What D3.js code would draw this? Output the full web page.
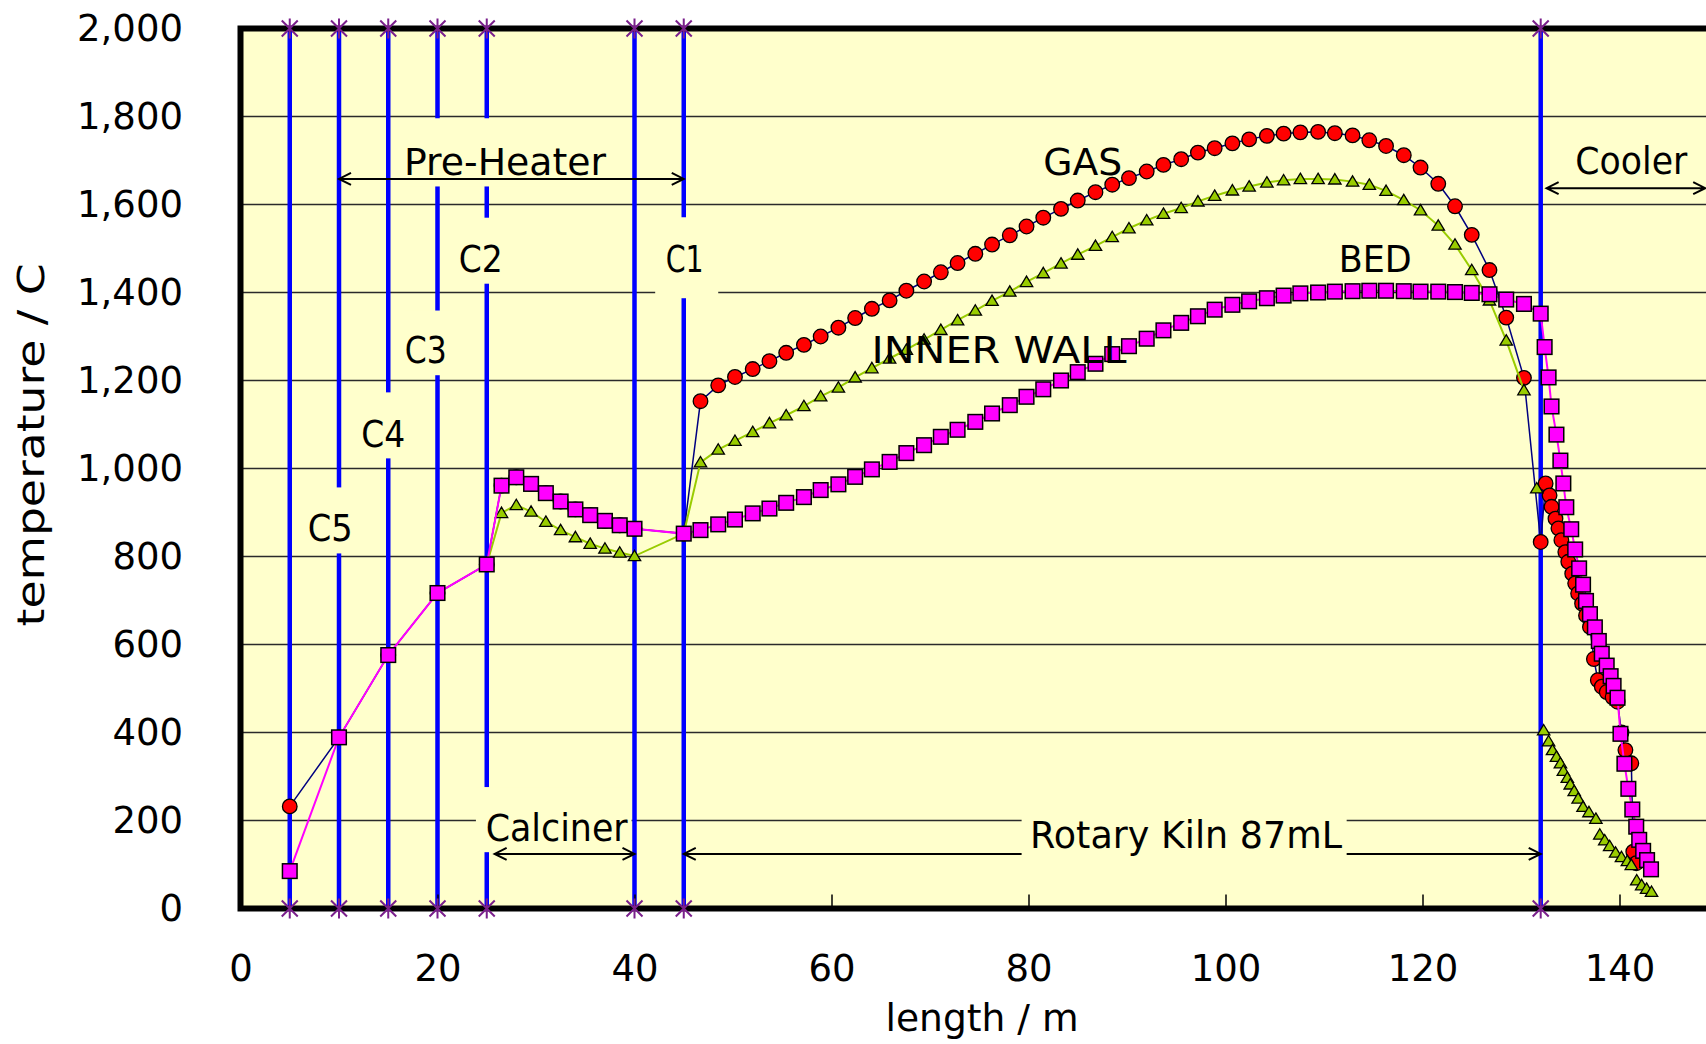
<!DOCTYPE html>
<html><head><meta charset="utf-8">
<script src="https://cdn.jsdelivr.net/npm/d3@7"></script>
<style>
html,body{margin:0;padding:0;background:#fff;}
svg{display:block;}
text{font-family:"Comic Sans MS","DejaVu Sans",sans-serif;fill:#000;}
</style></head><body>
<svg id="chart" width="1706" height="1044"></svg>
<script>
// ---------------- data ----------------
const xTicks = [0, 20, 40, 60, 80, 100, 120, 140];
const yTicks = [0, 200, 400, 600, 800, 1000, 1200, 1400, 1600, 1800, 2000];

// stage boundaries (blue vertical lines) and their marker temperatures
const zoneX = [5, 10, 15, 20, 25, 40, 45, 132];
const zoneY = [0, 2000];

// pre-heater cyclones
const preX   = [5, 10, 15, 20, 25];
const gasPre = [232, 389, 576, 717, 782];
const bedPre = [85, 389, 576, 717, 782];
const wallPreX = [25];
const wallPre  = [782];

// calciner
const calcX    = [26.5, 28, 29.5, 31, 32.5, 34, 35.5, 37, 38.5, 40];
const bedCalc  = [961, 980, 965, 944, 925, 907, 894, 881, 871, 863];
const gasCalc  = [961, 980, 965, 944, 925, 907, 894, 881, 871, 863];
const wallCalc = [899, 917, 902, 879, 860, 844, 829, 818, 809, 801];

// rotary kiln
const kilnX = [45, 46.7, 48.5, 50.2, 52.0, 53.7, 55.4, 57.2, 58.9, 60.7, 62.4, 64.1, 65.9, 67.6, 69.4, 71.1, 72.8,
  74.6, 76.3, 78.1, 79.8, 81.5, 83.3, 85.0, 86.8, 88.5, 90.2, 92.0, 93.7, 95.5, 97.2, 98.9, 100.7, 102.4, 104.2,
  105.9, 107.6, 109.4, 111.1, 112.9, 114.6, 116.3, 118.1, 119.8, 121.6, 123.3, 125.0, 126.8, 128.5, 130.3, 132.0];
const gasKiln = [852, 1153, 1189, 1208, 1226, 1244, 1263, 1281, 1300, 1320, 1342, 1363, 1382, 1404, 1425, 1446, 1467,
  1488, 1509, 1530, 1550, 1570, 1590, 1609, 1628, 1645, 1660, 1675, 1690, 1703, 1718, 1728, 1739, 1748, 1756,
  1761, 1764, 1765, 1762, 1757, 1746, 1733, 1712, 1684, 1647, 1596, 1531, 1451, 1343, 1206, 833];
// inner wall: same stations as kilnX up to 130.3 m, then one point just before the kiln outlet
const wallKiln = [852, 1014, 1043, 1063, 1083, 1103, 1121, 1142, 1164, 1184, 1207, 1228, 1250, 1270, 1293, 1315, 1337,
  1359, 1381, 1402, 1424, 1444, 1466, 1486, 1506, 1526, 1546, 1564, 1579, 1592, 1607, 1620, 1632, 1641, 1650,
  1655, 1658, 1658, 1657, 1652, 1645, 1631, 1610, 1587, 1552, 1509, 1451, 1382, 1291, 1178];
const wallOutletX = [131.6];
const wallOutlet  = [955];
const bedKiln = [852, 860, 873, 884, 898, 909, 922, 935, 951, 964, 981, 998, 1015, 1035, 1053, 1072, 1088,
  1106, 1125, 1144, 1163, 1180, 1200, 1219, 1238, 1260, 1278, 1295, 1314, 1331, 1346, 1361, 1372, 1380, 1387,
  1393, 1398, 1400, 1402, 1403, 1404, 1404, 1403, 1402, 1402, 1401, 1399, 1396, 1384, 1374, 1352];

// cooler
const gasCoolX = [132.5, 132.9, 133.1, 133.5, 133.8, 134.1, 134.5, 134.8, 135.2, 135.5, 135.8, 136.2, 136.6,
  137.0, 137.4, 137.8, 138.2, 138.7, 139.3, 139.8, 140.2, 140.6, 141.2, 141.4, 141.7];
const gasCool = [966, 939, 913, 886, 864, 837, 810, 788, 761, 739, 716, 693, 666,
  640, 567, 519, 504, 492, 480, 470, 400, 360, 330, 129, 103];
const wallCoolX = [132.3, 132.8, 133.2, 133.6, 134.0, 134.3, 134.7, 135.0, 135.4, 135.8, 136.3, 136.9, 137.6,
  138.0, 138.5, 139.0, 139.6, 140.2, 140.8, 141.2, 141.75, 142.25, 142.75, 143.25];
const wallCool = [405, 380, 360, 345, 330, 313, 297, 282, 267, 250, 231, 219, 204,
  168, 155, 142, 127, 117, 108, 99, 64, 53, 45, 38];
const bedCoolX = [132.4, 132.8, 133.1, 133.6, 134.0, 134.3, 134.6, 135.1, 135.5, 135.9, 136.3, 136.6, 137.0,
  137.5, 137.9, 138.2, 138.7, 139.1, 139.4, 139.8, 140.1, 140.5, 140.9, 141.3, 141.7, 142.0, 142.4, 142.8, 143.2];
const bedCool = [1276, 1207, 1141, 1077, 1018, 966, 912, 862, 816, 773, 736, 699, 669,
  639, 608, 579, 552, 528, 506, 479, 397, 329, 272, 225, 186, 156, 131, 110, 89];

// ---------------- layout / annotations (positions in data units) ----------------
const labels = [
  {t: "Pre-Heater", x: 26.85, y: 1666, w: 202},
  {t: "C1", x: 45.1, y: 1446, w: 38},
  {t: "C2", x: 24.4, y: 1446, w: 44},
  {t: "C3", x: 18.8, y: 1239, w: 42},
  {t: "C4", x: 14.5, y: 1050, w: 44},
  {t: "C5", x: 9.1, y: 835, w: 45},
  {t: "Calciner", x: 32.1, y: 153, w: 142},
  {t: "Rotary Kiln 87mL", x: 96.0, y: 137, w: 312},
  {t: "Cooler", x: 141.2, y: 1670, w: 112},
  {t: "GAS", x: 85.5, y: 1668, w: 79},
  {t: "BED", x: 115.2, y: 1446, w: 73},
  {t: "INNER WALL", x: 77.0, y: 1239, w: 255}
];
// background boxes behind labels: [x0, x1, y0, y1]
const boxesUnder = [
  [42.1, 48.5, 1387, 1571], [21.7, 27.5, 1420, 1570], [16.6, 21.4, 1212, 1359],
  [11.8, 17.0, 1023, 1173], [6.8, 11.6, 807, 957], [16.2, 37.5, 1641, 1796], [23.9, 39.7, 128, 276]
];
const arrowsUnder = [[10, 45, 1658], [25.8, 40, 124], [132.6, 148.7, 1637]];
const kilnArrow = [45, 132, 124];
const kilnBox = [79.3, 112.3, 97, 233];

// ---------------- drawing ----------------
const svg = d3.select("#chart");
const x = d3.scaleLinear().domain([0, 150]).range([240.5, 1718]);
const y = d3.scaleLinear().domain([0, 2000]).range([908.5, 28.5]);
const BG = "#FFFFCC";

svg.append("rect").attr("x", x(0)).attr("y", y(2000))
  .attr("width", x(150) - x(0)).attr("height", y(0) - y(2000)).attr("fill", BG);

// gridlines
svg.append("g").selectAll("line").data(yTicks.filter(v => v > 0 && v < 2000)).join("line")
  .attr("x1", x(0)).attr("x2", x(150)).attr("y1", d => y(d)).attr("y2", d => y(d))
  .attr("stroke", "#2a2a2a").attr("stroke-width", 1.3);

// stage lines
svg.append("g").selectAll("line").data(zoneX).join("line")
  .attr("x1", d => x(d)).attr("x2", d => x(d)).attr("y1", y(zoneY[0])).attr("y2", y(zoneY[1]))
  .attr("stroke", "#0000FF").attr("stroke-width", 4.5);

function box(b) {
  svg.append("rect").attr("x", x(b[0])).attr("y", y(b[3]))
    .attr("width", x(b[1]) - x(b[0])).attr("height", y(b[2]) - y(b[3])).attr("fill", BG);
}
function arrow(a) {
  const x1 = x(a[0]), x2 = x(a[1]), yy = y(a[2]), h = 12, w = 6;
  svg.append("path")
    .attr("d", `M${x1},${yy}L${x2},${yy}M${x1 + h},${yy - w}L${x1},${yy}L${x1 + h},${yy + w}` +
               `M${x2 - h},${yy - w}L${x2},${yy}L${x2 - h},${yy + w}`)
    .attr("fill", "none").attr("stroke", "#000").attr("stroke-width", 2);
}
boxesUnder.forEach(box);
arrowsUnder.forEach(arrow);
arrow(kilnArrow);
box(kilnBox);

// series
const zip = (xs, ys) => xs.map((v, i) => [v, ys[i]]);
const gas  = [...zip(preX, gasPre), ...zip(calcX, gasCalc), ...zip(kilnX, gasKiln), ...zip(gasCoolX, gasCool)];
const wall = [...zip(wallPreX, wallPre), ...zip(calcX, wallCalc), ...zip(kilnX, wallKiln),
              ...zip(wallOutletX, wallOutlet), ...zip(wallCoolX, wallCool)];
const bed  = [...zip(preX, bedPre), ...zip(calcX, bedCalc), ...zip(kilnX, bedKiln), ...zip(bedCoolX, bedCool)];
const line = d3.line().x(d => x(d[0])).y(d => y(d[1]));

svg.append("path").datum(gas).attr("d", line).attr("fill", "none").attr("stroke", "#000080").attr("stroke-width", 1.5);
svg.append("g").selectAll("circle").data(gas).join("circle")
  .attr("cx", d => x(d[0])).attr("cy", d => y(d[1])).attr("r", 7.3)
  .attr("fill", "#FF0000").attr("stroke", "#000").attr("stroke-width", 1.3);

svg.append("path").datum(wall).attr("d", line).attr("fill", "none").attr("stroke", "#99CC00").attr("stroke-width", 2);
svg.append("g").selectAll("path").data(wall).join("path")
  .attr("d", d => { const cx = x(d[0]), cy = y(d[1]); return `M${cx},${cy - 5.8}L${cx + 6.2},${cy + 4.6}L${cx - 6.2},${cy + 4.6}Z`; })
  .attr("fill", "#99CC00").attr("stroke", "#000").attr("stroke-width", 1.3);

svg.append("path").datum(bed).attr("d", line).attr("fill", "none").attr("stroke", "#FF00FF").attr("stroke-width", 2);
svg.append("g").selectAll("rect").data(bed).join("rect")
  .attr("x", d => x(d[0]) - 7.3).attr("y", d => y(d[1]) - 7.3).attr("width", 14.6).attr("height", 14.6)
  .attr("fill", "#FF00FF").attr("stroke", "#000").attr("stroke-width", 1.5);

// frame
svg.append("rect").attr("x", x(0)).attr("y", y(2000))
  .attr("width", x(150) - x(0)).attr("height", y(0) - y(2000))
  .attr("fill", "none").attr("stroke", "#000").attr("stroke-width", 6);

// axes
const xAxis = svg.append("g").attr("transform", `translate(0,${y(0)})`)
  .call(d3.axisBottom(x).tickValues(xTicks).tickSizeInner(-14).tickSizeOuter(0).tickPadding(46.5));
xAxis.select(".domain").remove();
xAxis.selectAll("line").attr("stroke", "#000").attr("stroke-width", 1.5);
xAxis.selectAll("text").attr("font-size", 37).attr("font-family", null);

const yAxis = svg.append("g").attr("transform", `translate(${x(0)},0)`)
  .call(d3.axisLeft(y).tickValues(yTicks).tickFormat(d3.format(",")).tickSize(0).tickPadding(57.5));
yAxis.select(".domain").remove();
yAxis.selectAll("text").attr("font-size", 37).attr("font-family", null);

// star markers at ends of stage lines
const stars = [];
zoneX.forEach(zx => zoneY.forEach(zy => stars.push([zx, zy])));
svg.append("g").selectAll("path").data(stars).join("path")
  .attr("d", d => { const cx = x(d[0]), cy = y(d[1]), r = 10, q = 8;
    return `M${cx},${cy - r}L${cx},${cy + r}M${cx - q},${cy - q}L${cx + q},${cy + q}M${cx - q},${cy + q}L${cx + q},${cy - q}`; })
  .attr("stroke", "#7A1F8C").attr("stroke-width", 2).attr("fill", "none");

// labels
svg.append("g").selectAll("text").data(labels).join("text")
  .attr("x", d => x(d.x)).attr("y", d => y(d.y)).attr("text-anchor", "middle")
  .attr("font-size", 37).attr("textLength", d => d.w).attr("lengthAdjust", "spacingAndGlyphs")
  .text(d => d.t);

// axis titles
svg.append("text").attr("x", 982).attr("y", 1031).attr("text-anchor", "middle").attr("font-size", 37)
  .attr("textLength", 193).attr("lengthAdjust", "spacingAndGlyphs").text("length / m");
svg.append("text").attr("transform", "translate(44,445) rotate(-90)").attr("text-anchor", "middle")
  .attr("font-size", 37).attr("textLength", 363).attr("lengthAdjust", "spacingAndGlyphs").text("temperature / C");
</script></body></html>
